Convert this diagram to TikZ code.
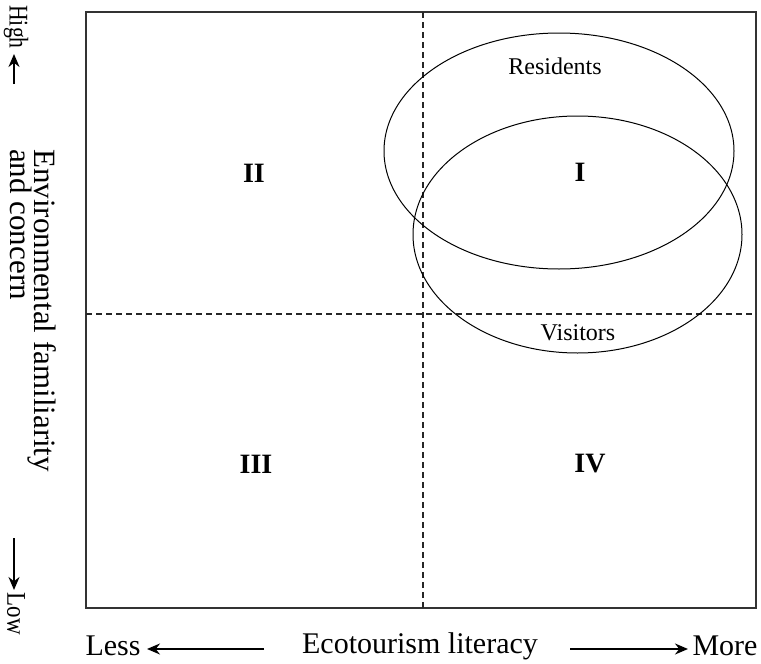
\documentclass[tikz,border=0pt]{standalone}
\usepackage{fontspec}
\setmainfont{Liberation Serif}
\usetikzlibrary{arrows.meta}
\begin{document}
\begin{tikzpicture}[x=1pt,y=-1pt,
  frame/.style={draw=black!80,line width=1.6pt},
  divider/.style={draw=black!85,line width=1.4pt,dash pattern=on 6pt off 4pt},
  group/.style={draw=black,line width=1pt},
  axislabel/.style={font=\fontsize{30}{30}\selectfont,inner sep=0pt},
  endlabel/.style={font=\fontsize{27}{30}\selectfont,inner sep=0pt},
  quadlabel/.style={font=\fontsize{28}{30}\selectfont\bfseries,inner sep=0pt},
  grouplabel/.style={font=\fontsize{24}{26}\selectfont,inner sep=0pt},
  axisarrow/.style={draw=black,line width=1.6pt,-{Stealth[length=13pt,width=11pt]}}]
\useasboundingbox (0,0) rectangle (761,664);
% frame
\draw[frame] (86,12) rectangle (756,608);
% dividers
\coordinate (vtop) at (423,12);
\coordinate (vbot) at (423,608);
\coordinate (hl) at (86,314);
\coordinate (hr) at (756,314);
\draw[divider] (vtop) -- (vbot);
\draw[divider] (hl) -- (hr);
% ellipses
\draw[group] (559,151) ellipse [x radius=175, y radius=118];
\draw[group] (577.5,234.5) ellipse [x radius=164.5, y radius=118.5];
\node[grouplabel] (res) at (555,66) {Residents};
\node[grouplabel] (vis) at (578,333) {Visitors};
% quadrant labels
\node[quadlabel] (q1) at (580,172) {I};
\node[quadlabel] (q2) at (254,173) {II};
\node[quadlabel] (q3) at (256,464) {III};
\node[quadlabel] (q4) at (590,464) {IV};
% bottom axis
\node[axislabel] (less) at (113,646) {Less};
\node[axislabel] (eco) at (420,646) {Ecotourism literacy};
\node[axislabel] (more) at (725,646) {More};
\coordinate (la) at (264,649);
\coordinate (ra) at (570,649);
\coordinate (lt) at (147,649);
\coordinate (rt) at (688,649);
\draw[axisarrow] (la) -- (lt);
\draw[axisarrow] (ra) -- (rt);
% left axis
\node[endlabel,rotate=-90] (high) at (16,27) {\scalebox{0.8}[1]{High}};
\node[endlabel,rotate=-90] (low) at (16,614) {\scalebox{0.85}[1]{Low}};
\node[font=\fontsize{31}{31}\selectfont,inner sep=0pt,rotate=-90,align=left,anchor=north west] (env) at (57,149) {Environmental familiarity\\[-7pt]and concern};
\coordinate (ua) at (14,84);
\coordinate (ut) at (14,54);
\coordinate (da) at (14,538);
\coordinate (dt) at (14,590);
\draw[axisarrow] (ua) -- (ut);
\draw[axisarrow] (da) -- (dt);
\end{tikzpicture}
\end{document}
